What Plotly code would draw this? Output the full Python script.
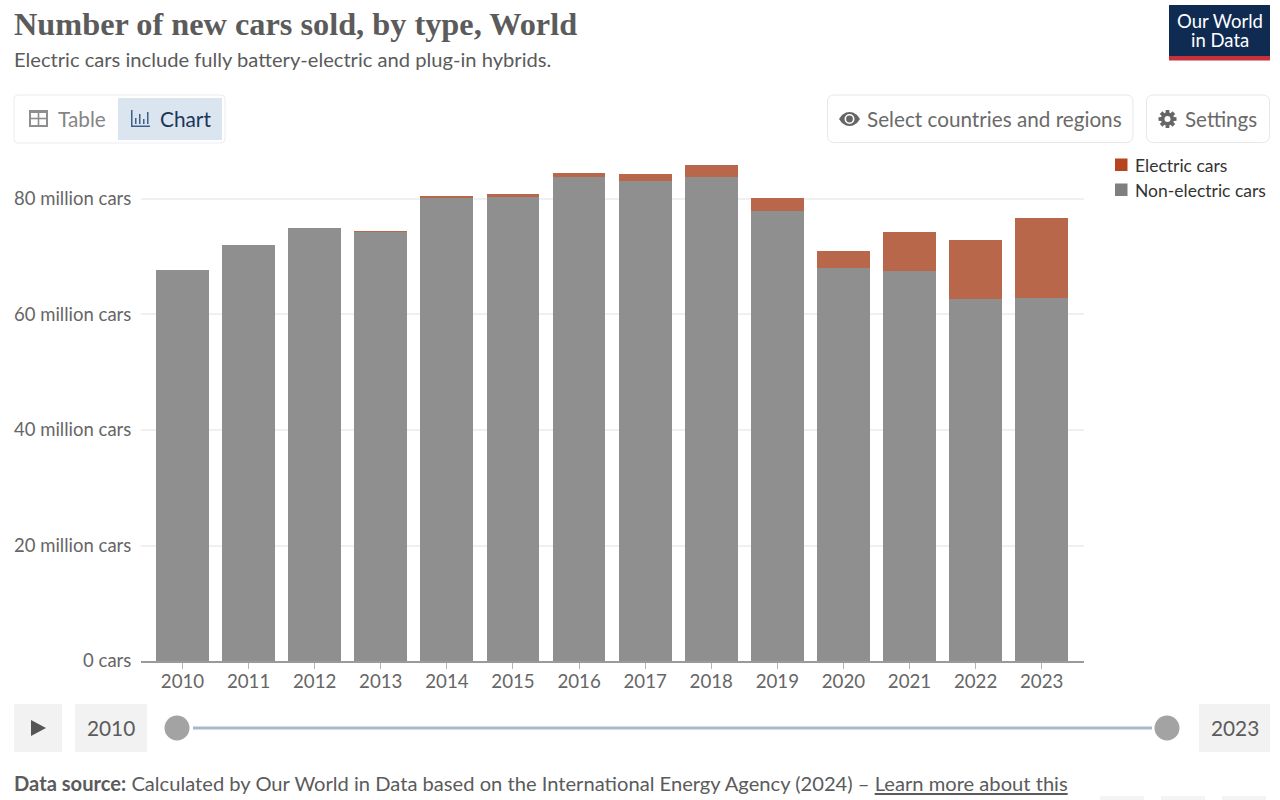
import math
import plotly.graph_objects as go

years = ["2010","2011","2012","2013","2014","2015","2016","2017","2018","2019","2020","2021","2022","2023"]
non_electric = [67.7,72.0,75.0,74.3,80.2,80.4,83.8,83.1,83.8,77.9,68.0,67.5,62.7,62.9]
electric = [0,0,0,0.15,0.3,0.55,0.75,1.2,2.1,2.3,3.0,6.7,10.2,13.8]
y_ticks = [0,20,40,60,80]
y_labels = ["0 cars","20 million cars","40 million cars","60 million cars","80 million cars"]

W, H = 1280, 800
def X(p): return p / W
def Y(p): return 1 - p / H

TXT = "#5b5b5b"
FONT = "Lato"
shapes, annos = [], []

def text(x, y, s, size, color=TXT, anchor="left", family=FONT):
    annos.append(dict(x=X(x), y=Y(y), xref="paper", yref="paper", text=s, showarrow=False,
                      xanchor=anchor, yanchor="middle", align=anchor,
                      font=dict(size=size, color=color, family=family),
                      borderpad=0, borderwidth=0))

def rrect(x0, y0, x1, y1, r=4, fill="#ffffff", line="#e7e7e7", lw=1):
    px = lambda a, b: f"{X(a):.5f},{Y(b):.5f}"
    d = (f"M{px(x0+r,y0)} L{px(x1-r,y0)} Q{px(x1,y0)} {px(x1,y0+r)} L{px(x1,y1-r)} Q{px(x1,y1)} {px(x1-r,y1)} "
         f"L{px(x0+r,y1)} Q{px(x0,y1)} {px(x0,y1-r)} L{px(x0,y0+r)} Q{px(x0,y0)} {px(x0+r,y0)} Z")
    shapes.append(dict(type="path", xref="paper", yref="paper", path=d, fillcolor=fill,
                       line=dict(color=line, width=lw), layer="below"))

def rect(x0, y0, x1, y1, fill, line=None, lw=0):
    shapes.append(dict(type="rect", xref="paper", yref="paper", x0=X(x0), x1=X(x1), y0=Y(y0), y1=Y(y1),
                       fillcolor=fill, line=dict(color=line or fill, width=lw), layer="above"))

def poly(pts, fill):
    d = "M" + " L".join(f"{X(a):.5f},{Y(b):.5f}" for a, b in pts) + " Z"
    shapes.append(dict(type="path", xref="paper", yref="paper", path=d, fillcolor=fill,
                       line=dict(width=0), layer="above"))

def circle(cx, cy, r, fill, line=None, lw=0):
    shapes.append(dict(type="circle", xref="paper", yref="paper", x0=X(cx-r), x1=X(cx+r), y0=Y(cy-r), y1=Y(cy+r),
                       fillcolor=fill, line=dict(color=line or fill, width=lw), layer="above"))

# Header
text(14, 24, "<b>Number of new cars sold, by type, World</b>", 32.3, "#5b5b5b", family="Liberation Serif")
text(14, 59.5, "Electric cars include fully battery-electric and plug-in hybrids.", 20.15, TXT)

# Logo
rect(1169, 5, 1270, 56, "#0f2b52")
rect(1169, 56, 1270, 60.5, "#c8313a")
text(1219.5, 21, "Our World", 18.5, "#ffffff", "center")
text(1219.5, 40, "in Data", 18.5, "#ffffff", "center")

# Tabs
rrect(14, 95, 225, 143, fill="#ffffff", line="#e9edf3")
rect(118, 98, 222, 140, "#dbe5f0")
rect(29, 110, 48, 127, "#8e8e8e")
rect(31, 113, 37.7, 117.7, "#ffffff")
rect(39.3, 113, 46, 117.7, "#ffffff")
rect(31, 119.3, 37.7, 125, "#ffffff")
rect(39.3, 119.3, 46, 125, "#ffffff")
text(58, 118.5, "Table", 20.8, "#858585")
rect(131, 110, 132.5, 127, "#3f5f8a")
rect(131, 125.5, 150, 127, "#3f5f8a")
rect(135, 118, 136.5, 124, "#3f5f8a")
rect(139, 114, 140.5, 124, "#3f5f8a")
rect(143, 119, 144.5, 124, "#3f5f8a")
rect(147, 112, 148.5, 124, "#3f5f8a")
text(160, 118.5, "Chart", 20.8, "#1d3557")

# Right buttons
rrect(827.5, 95, 1133, 142.5, r=7)
rrect(1146.5, 95, 1269.5, 142.5, r=7)
poly([(839,119),(842,115),(846,112.5),(849.5,112),(853,112.5),(857,115),(860,119),
      (857,123),(853,125.5),(849.5,126),(846,125.5),(842,123)], "#666666")
circle(849.5, 119, 5, "#ffffff")
circle(849.5, 119, 3.4, "#666666")
text(867, 118.5, "Select countries and regions", 20.7, "#6a6a6a")
gear = []
for i in range(8):
    a = i * math.pi / 4
    for da, r in ((-0.30, 6.6), (-0.20, 9.2), (0.20, 9.2), (0.30, 6.6)):
        gear.append((1167.5 + r * math.cos(a + da), 119 + r * math.sin(a + da)))
poly(gear, "#666666")
circle(1167.5, 119, 3, "#ffffff")
text(1185, 118.5, "Settings", 20.6, "#6a6a6a")

# Legend
rect(1115, 158.5, 1127.5, 171, "#b5441f")
rect(1115, 183.5, 1127.5, 196, "#7f7f7f")
text(1135, 165, "Electric cars", 17.5, "#333333")
text(1135, 190, "Non-electric cars", 17.5, "#333333")

# Timeline
rect(14, 704, 62, 752, "#f2f2f2")
poly([(31,720),(31,736),(46,728)], "#555555")
rect(75, 704, 147, 752, "#f2f2f2")
text(111, 727, "2010", 20.8, "#5b5b5b", "center")
rect(193, 726.5, 1152, 729.5, "#a8b8cc")
circle(177, 728, 12.5, "#a3a3a3")
circle(1167, 728, 12.5, "#a3a3a3")
rect(1199, 704, 1270, 752, "#f2f2f2")
text(1234.5, 727, "2023", 20.8, "#5b5b5b", "center")

# Source
text(14, 783, "<b>Data source:</b> Calculated by Our World in Data based on the International Energy Agency (2024) – <u>Learn more about this</u>", 20.15, TXT)
rect(1100, 796, 1144, 800, "#f4f4f4")
rect(1161, 796, 1205, 800, "#f4f4f4")
rect(1222, 796, 1266, 800, "#f4f4f4")

fig = go.Figure()
fig.add_bar(name="Non-electric cars", x=years, y=non_electric, marker=dict(color="#8f8f8f", line=dict(width=0)))
fig.add_bar(name="Electric cars", x=years, y=electric, marker=dict(color="#b8674a", line=dict(width=0)))

fig.update_layout(
    width=W, height=H, autosize=False, barmode="stack", bargap=0.2, showlegend=False,
    margin=dict(l=0, r=0, t=0, b=0, pad=0, autoexpand=False),
    paper_bgcolor="#ffffff", plot_bgcolor="#ffffff",
    font=dict(family=FONT, color="#666666"),
    xaxis=dict(domain=[X(141), X(1084)], type="category", range=[-0.628, 13.64],
               showline=True, linecolor="#9a9a9a", linewidth=1.5, showgrid=False, zeroline=False,
               ticks="outside", ticklen=6, tickcolor="#b5b5b5", tickwidth=1, ticklabelstandoff=-3,
               tickfont=dict(size=18.7, color="#666666", family=FONT), anchor="y"),
    yaxis=dict(domain=[Y(661), Y(160)], range=[0, 86.75], tickvals=y_ticks, ticktext=y_labels,
               showgrid=True, gridcolor="#f0f0f0", gridwidth=1.5, griddash="solid", zeroline=False,
               showline=False, ticks="outside", ticklen=5, tickcolor="rgba(0,0,0,0)",
               tickfont=dict(size=18.5, color="#666666", family=FONT), anchor="x"),
    shapes=shapes, annotations=annos,
)
fig.write_html("out.html", config={"displayModeBar": False},
               post_script="document.body.style.margin='0';")
